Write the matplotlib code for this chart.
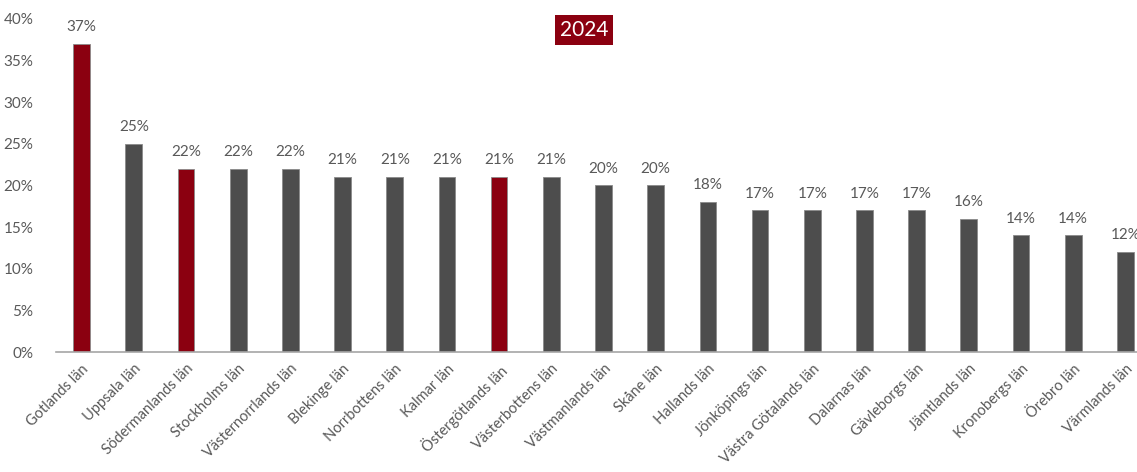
import matplotlib
matplotlib.use("Agg")
import matplotlib.pyplot as plt
import matplotlib.transforms as mtransforms
from matplotlib.ticker import PercentFormatter

plt.rcParams['font.family'] = ['Lato', 'DejaVu Sans']

# andel per län, 2024
lan = ["Gotlands län", "Uppsala län", "Södermanlands län", "Stockholms län",
       "Västernorrlands län", "Blekinge län", "Norrbottens län", "Kalmar län",
       "Östergötlands län", "Västerbottens län", "Västmanlands län", "Skåne län",
       "Hallands län", "Jönköpings län", "Västra Götalands län", "Dalarnas län",
       "Gävleborgs län", "Jämtlands län", "Kronobergs län", "Örebro län",
       "Värmlands län"]
andel = [37, 25, 22, 22, 22, 21, 21, 21, 21, 21, 20, 20, 18, 17, 17, 17, 17,
         16, 14, 14, 12]
markerade = ["Gotlands län", "Södermanlands län", "Östergötlands län"]

RED = "#8B0010"
GRAY = "#4D4D4D"
TXT = "#595959"

fig = plt.figure(figsize=(11.37, 4.72), dpi=100)
ax = fig.add_axes([55.5 / 1137, 120 / 472, 1096 / 1137, 333 / 472])

x = list(range(len(lan)))
farger = [RED if n in markerade else GRAY for n in lan]
ax.bar(x, andel, width=0.32, color=farger, edgecolor="#8a8a8a", linewidth=0.6)

for xi, v in zip(x, andel):
    ax.annotate(f"{v}%", (xi, v), xytext=(0, 7), textcoords="offset points",
                ha="center", va="bottom", fontsize=11, color=TXT)

ax.set_xlim(-0.5, len(lan) - 0.5)
ax.set_ylim(0, 40)
ax.set_yticks(range(0, 41, 5))
ax.yaxis.set_major_formatter(PercentFormatter(decimals=0))
ax.set_xticks(x)
ax.set_xticklabels(lan, rotation=45, ha="right", rotation_mode="anchor")

# flytta etiketterna lite åt vänster
shift = mtransforms.ScaledTranslation(-6 / 100, 0, fig.dpi_scale_trans)
for lbl in ax.get_xticklabels():
    lbl.set_transform(lbl.get_transform() + shift)

for s in ["top", "right", "left"]:
    ax.spines[s].set_visible(False)
ax.spines["bottom"].set_color("#a6a6a6")
ax.spines["bottom"].set_linewidth(1.2)
ax.tick_params(axis="both", length=0, labelsize=11, colors=TXT)
ax.tick_params(axis="x", pad=7, labelsize=10.5)
ax.tick_params(axis="y", pad=16)

fig.text(584 / 1137, 1 - 30 / 472, "2024", ha="center", va="center",
         fontsize=15, color="white",
         bbox=dict(boxstyle="square,pad=0.25", facecolor=RED, edgecolor="none"))

fig.savefig("out.png", dpi=100)
